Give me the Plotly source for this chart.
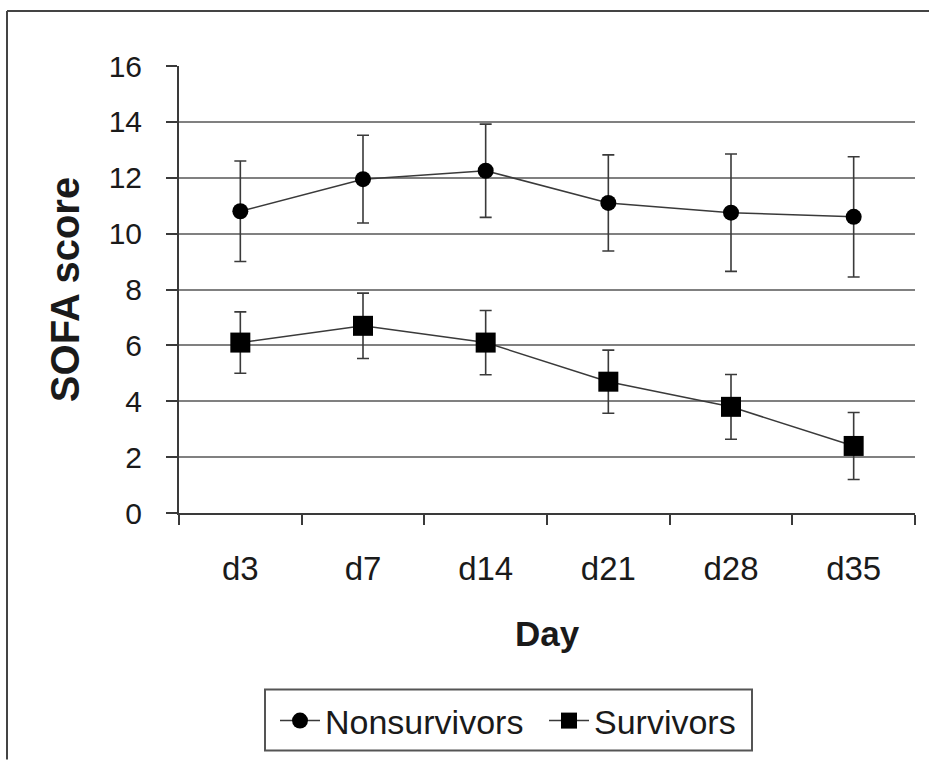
import plotly.graph_objects as go

days = ["d3", "d7", "d14", "d21", "d28", "d35"]
nonsurv_mean = [10.8, 11.95, 12.25, 11.1, 10.75, 10.6]
nonsurv_err = [1.8, 1.57, 1.67, 1.72, 2.1, 2.15]
surv_mean = [6.1, 6.7, 6.1, 4.7, 3.8, 2.4]
surv_err = [1.1, 1.17, 1.15, 1.13, 1.16, 1.2]
y_ticks = [0, 2, 4, 6, 8, 10, 12, 14, 16]

FONT = "Liberation Sans, Arial, sans-serif"
INK = "#1a1a1a"
LINE = "#3a3a3a"

fig = go.Figure()
fig.add_trace(go.Scatter(
    x=days, y=nonsurv_mean, name="Nonsurvivors", mode="lines+markers",
    line=dict(color=LINE, width=1.5),
    marker=dict(symbol="circle", size=16, color="black"),
    error_y=dict(type="data", array=nonsurv_err, visible=True,
                 color=LINE, thickness=1.6, width=6),
    legend="legend",
))
fig.add_trace(go.Scatter(
    x=days, y=surv_mean, name="Survivors", mode="lines+markers",
    line=dict(color=LINE, width=1.5),
    marker=dict(symbol="square", size=20, color="black"),
    error_y=dict(type="data", array=surv_err, visible=True,
                 color=LINE, thickness=1.6, width=6),
    legend="legend2",
))

# pixel -> paper helpers
L, R, T, B = 179, 915, 66, 514
pw, ph = R - L, B - T
def px(x):
    return (x - L) / pw
def py(y):
    return (B - y) / ph

# outer frame (top and left edges of the figure box)
fig.add_shape(type="line", xref="paper", yref="paper",
              x0=px(7), x1=px(929), y0=py(11), y1=py(11),
              line=dict(color="#444", width=2))
fig.add_shape(type="line", xref="paper", yref="paper",
              x0=px(7), x1=px(7), y0=py(11), y1=py(761),
              line=dict(color="#444", width=2))
# legend box
fig.add_shape(type="rect", xref="paper", yref="paper",
              x0=px(265), x1=px(752), y0=py(691), y1=py(752),
              line=dict(color="#555", width=2), fillcolor="rgba(0,0,0,0)")

leg_common = dict(orientation="h", xanchor="left", yanchor="top",
                  y=py(692), borderwidth=0, bgcolor="rgba(0,0,0,0)",
                  font=dict(size=34, family=FONT, color=INK), itemwidth=40)

fig.update_layout(
    width=929, height=761,
    margin=dict(l=L, r=929 - R, t=T, b=761 - B),
    paper_bgcolor="white", plot_bgcolor="white",
    font=dict(family=FONT, color=INK),
    showlegend=True,
    legend=dict(x=px(275), **leg_common),
    legend2=dict(x=px(544), **leg_common),
    xaxis=dict(
        type="category", range=[-0.5, 5.5],
        showline=True, linecolor=LINE, linewidth=2,
        ticks="outside", tickson="boundaries", ticklen=10,
        tickcolor=LINE, tickwidth=2,
        showgrid=False, automargin=False,
        tickfont=dict(size=33, family=FONT, color=INK),
        ticklabelstandoff=25,
        title=dict(text="<b>Day</b>", font=dict(size=35, family=FONT, color=INK),
                   standoff=36),
    ),
    yaxis=dict(
        range=[0, 16], tickvals=y_ticks,
        showline=True, linecolor=LINE, linewidth=2,
        ticks="outside", ticklen=11, tickcolor=LINE, tickwidth=2,
        showgrid=True, gridcolor="#808080", gridwidth=2,
        zeroline=False, automargin=False,
        tickfont=dict(size=30, family=FONT, color=INK),
        ticklabelstandoff=18,
        title=dict(text="<b>SOFA score</b>", font=dict(size=40, family=FONT, color=INK),
                   standoff=17),
    ),
)

fig.write_html("out.html", config={"displayModeBar": False},
               post_script="document.body.style.margin='0';document.body.style.overflow='hidden';")
